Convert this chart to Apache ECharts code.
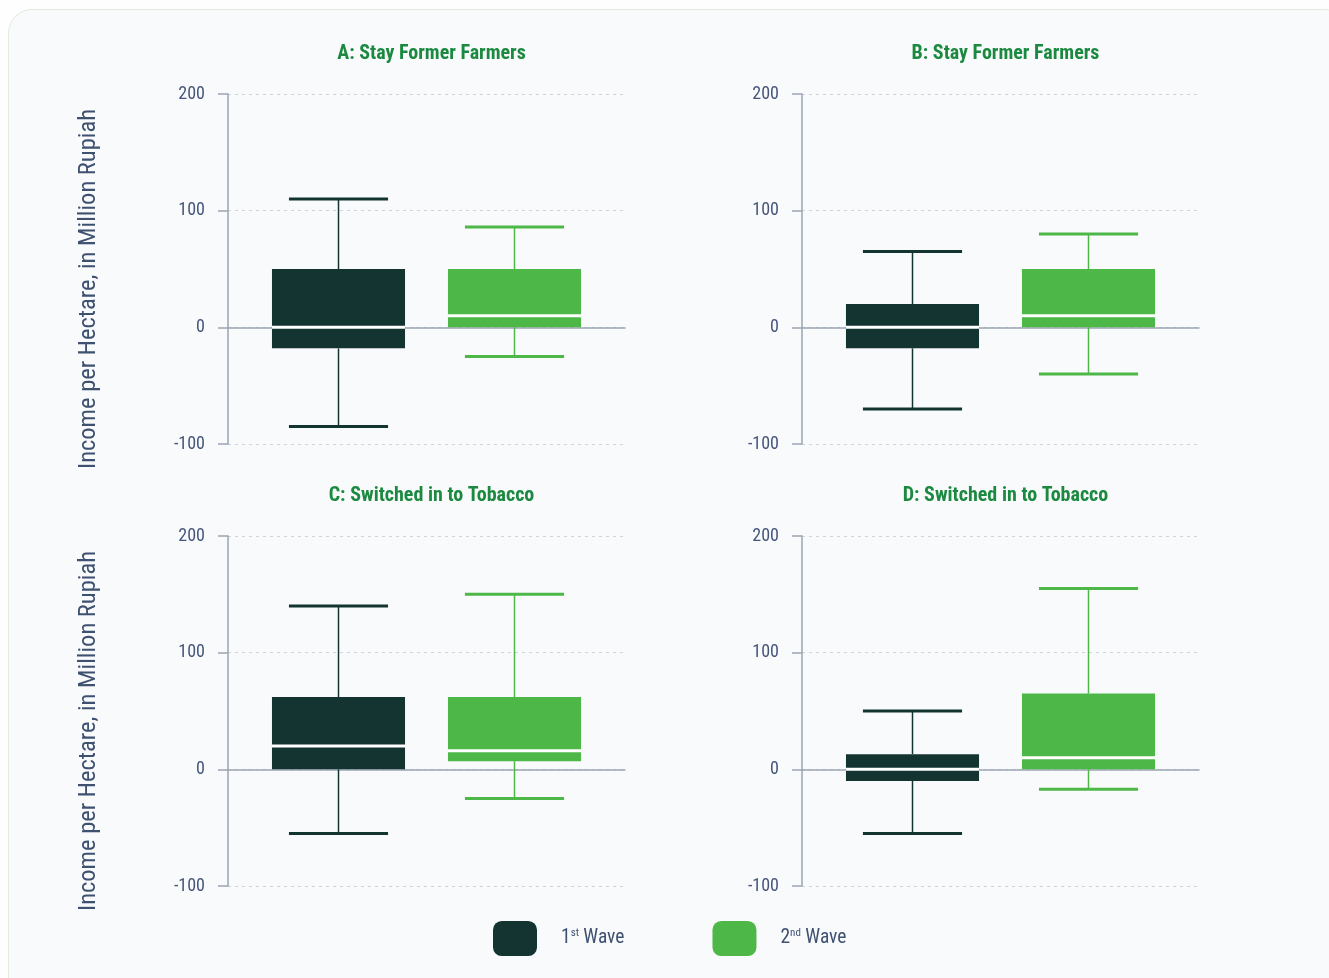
<!DOCTYPE html>
<html><head><meta charset="utf-8">
<script src="https://cdn.jsdelivr.net/npm/echarts@6/dist/echarts.min.js"></script>
<style>
html,body{margin:0;padding:0;background:#fefefe;overflow:hidden;}
#card{position:absolute;left:8px;top:9px;width:1340px;height:1000px;border:1px solid #e1ecdc;border-radius:24px;background:#f9fafc;box-sizing:border-box;}
#chart{position:absolute;left:0;top:0;width:1329px;height:978px;}
</style></head><body><div id="card"></div><div id="chart"></div>
<script>
// ---- data ----
const categories = ['1st Wave', '2nd Wave'];
const panelTitles = ['A: Stay Former Farmers', 'B: Stay Former Farmers', 'C: Switched in to Tobacco', 'D: Switched in to Tobacco'];
const yTickValues = [-100, 0, 100, 200];
const yAxisTitle = 'Income per Hectare, in Million Rupiah';
// [low whisker, Q1, median, Q3, high whisker]
const panelA1 = [-85, -18, 0, 50, 110];
const panelA2 = [-25, 0, 10, 50, 86];
const panelB1 = [-70, -18, 0, 20, 65];
const panelB2 = [-40, 0, 10, 50, 80];
const panelC1 = [-55, 0, 20, 62, 140];
const panelC2 = [-25, 7, 16, 62, 150];
const panelD1 = [-55, -10, 0, 13, 50];
const panelD2 = [-17, 0, 10, 65, 155];
const panelData = [[panelA1, panelA2], [panelB1, panelB2], [panelC1, panelC2], [panelD1, panelD2]];

// ---- style / layout ----
const FONT = "'Liberation Sans Narrow', 'Roboto Condensed', Roboto, sans-serif";
const colors = ['#133430', '#4db848'];
const layout = [
  {left: 228, top: 94}, {left: 802, top: 94},
  {left: 228, top: 536}, {left: 802, top: 536}
];
const W = 397, H = 350, INSET = 22.5;

const grids = [], xAxes = [], yAxes = [], series = [], titles = [];
layout.forEach((p, i) => {
  grids.push({left: p.left, top: p.top, width: W, height: H});
  grids.push({left: p.left + INSET, top: p.top, width: W - 2 * INSET, height: H});
  const showName = (i % 2 === 0);
  xAxes.push({gridIndex: 2 * i, type: 'category', data: [''],
    axisLine: {show: true, onZero: true, lineStyle: {color: '#9aa5b4', width: 1.5}},
    axisTick: {show: false}, axisLabel: {show: false}, splitLine: {show: false}});
  xAxes.push({gridIndex: 2 * i + 1, type: 'category', data: categories, show: false});
  yAxes.push({gridIndex: 2 * i, type: 'value', min: yTickValues[0], max: yTickValues[yTickValues.length - 1], interval: 100,
    name: showName ? yAxisTitle : '', nameLocation: 'middle', nameGap: 127,
    nameTextStyle: {fontFamily: FONT, fontSize: 24.5, color: '#3f5170', padding: [0, 40, 0, 0]},
    axisLine: {show: true, lineStyle: {color: '#9aa5b4', width: 1.5}},
    axisTick: {show: true, length: 10, lineStyle: {color: '#9aa5b4', width: 1.5}},
    axisLabel: {fontFamily: FONT, fontSize: 18, color: '#46557a', margin: 23},
    splitLine: {show: true, lineStyle: {color: '#cdd3db', type: [3, 4], width: 1}}});
  yAxes.push({gridIndex: 2 * i + 1, type: 'value', min: yTickValues[0], max: yTickValues[yTickValues.length - 1], show: false});
  titles.push({text: panelTitles[i], left: p.left + W / 2, top: p.top - 55, textAlign: 'center',
    textStyle: {fontFamily: FONT, fontSize: 20, fontWeight: 'bold', color: '#1b8a40'}});
  panelData[i].forEach((vals, k) => {
    series.push({
      type: 'custom', name: categories[k], xAxisIndex: 2 * i + 1, yAxisIndex: 2 * i + 1,
      itemStyle: {color: colors[k]},
      encode: {x: 0, y: [1, 2, 3, 4, 5]},
      data: [[k].concat(vals)],
      renderItem: renderBox
    });
  });
});

function renderBox(params, api) {
  const c = api.value(0);
  const lo = api.coord([c, api.value(1)]);
  const q1 = api.coord([c, api.value(2)]);
  const md = api.coord([c, api.value(3)]);
  const q3 = api.coord([c, api.value(4)]);
  const hi = api.coord([c, api.value(5)]);
  const band = api.size([1, 0])[0];
  const bw = band * 0.756, cw = bw * 0.745;
  const x = Math.round(lo[0]) - 0.5;
  const color = api.visual('color');
  return {type: 'group', children: [
    {type: 'line', shape: {x1: x, y1: hi[1], x2: x, y2: q3[1]}, style: {stroke: color, lineWidth: 1.5}},
    {type: 'line', shape: {x1: x, y1: q1[1], x2: x, y2: lo[1]}, style: {stroke: color, lineWidth: 1.5}},
    {type: 'line', shape: {x1: x - cw / 2, y1: hi[1], x2: x + cw / 2, y2: hi[1]}, style: {stroke: color, lineWidth: 3}},
    {type: 'line', shape: {x1: x - cw / 2, y1: lo[1], x2: x + cw / 2, y2: lo[1]}, style: {stroke: color, lineWidth: 3}},
    {type: 'rect', shape: {x: x - bw / 2, y: q3[1], width: bw, height: q1[1] - q3[1]}, style: {fill: color}},
    {type: 'line', shape: {x1: x - bw / 2, y1: md[1], x2: x + bw / 2, y2: md[1]}, style: {stroke: '#ffffff', lineWidth: 3}}
  ]};
}

const chart = echarts.init(document.getElementById('chart'), null, {renderer: 'canvas'});
chart.setOption({
  backgroundColor: 'transparent',
  animation: false,
  title: titles,
  grid: grids,
  xAxis: xAxes,
  yAxis: yAxes,
  legend: {
    data: categories, left: 493, top: 921, padding: 0, itemWidth: 44, itemHeight: 35, itemGap: 88, icon: 'roundRect',
    formatter: n => n === categories[0] ? '{s|}{a|1}{b|st}{a| Wave}' : '{s|}{a|2}{b|nd}{a| Wave}',
    textStyle: {rich: {
      s: {width: 19},
      a: {fontFamily: FONT, fontSize: 19.5, color: '#3f5170', lineHeight: 22},
      b: {fontFamily: FONT, fontSize: 11, color: '#3f5170', verticalAlign: 'top', lineHeight: 12}
    }}
  },
  series: series
});
</script>
</body></html>
